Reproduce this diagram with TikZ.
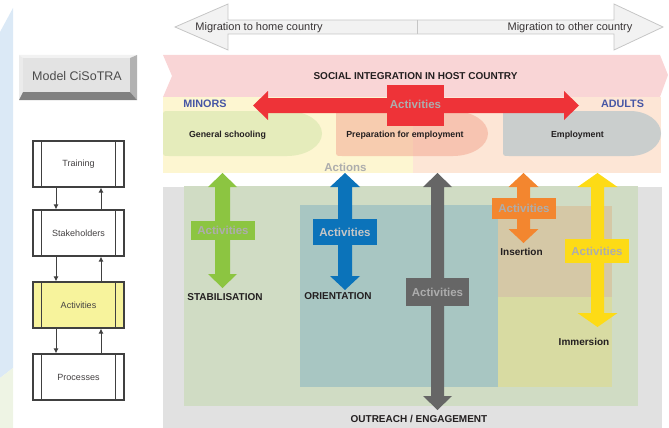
\documentclass[tikz,border=0pt]{standalone}
\usepackage{fontspec}
\setmainfont{Liberation Sans}
\usetikzlibrary{arrows.meta}
\definecolor{stripblue}{HTML}{DBE9F6}
\definecolor{stripgreen}{HTML}{EEF4E4}
\definecolor{migfill}{HTML}{F2F2F2}
\definecolor{migline}{HTML}{C6C6C6}
\definecolor{bandpink}{HTML}{F9D5D6}
\definecolor{minyellow}{HTML}{FDF6D1}
\definecolor{adpeach}{HTML}{FDE6D6}
\definecolor{schoolgreen}{HTML}{E5ECBB}
\definecolor{prepor}{HTML}{F3A48E}
\definecolor{empgray}{HTML}{CACECD}
\definecolor{actred}{HTML}{EE3338}
\definecolor{labblue}{HTML}{4656A5}
\definecolor{lowgray}{HTML}{E1E1E1}
\definecolor{lowgreen}{HTML}{D0DCC4}
\definecolor{lowteal}{HTML}{A8C6C2}
\definecolor{lowtan}{HTML}{D5C8A6}
\definecolor{lowyel}{HTML}{D8DBA2}
\definecolor{arrgreen}{HTML}{8CC541}
\definecolor{arrblue}{HTML}{0B73BA}
\definecolor{arrdark}{HTML}{666666}
\definecolor{arrorange}{HTML}{F3862F}
\definecolor{arryellow}{HTML}{FDDB16}
\definecolor{acttext}{HTML}{ADADAD}
\definecolor{darktext}{HTML}{231F20}
\definecolor{flowyel}{HTML}{F7F39C}
\definecolor{flowline}{HTML}{404040}
\newcommand\vdarr[7]{%
  \fill[#7] (#1,#2) -- (#1+#5,#2+#6) -- (#1+#4,#2+#6) -- (#1+#4,#3-#6) -- (#1+#5,#3-#6)
    -- (#1,#3) -- (#1-#5,#3-#6) -- (#1-#4,#3-#6) -- (#1-#4,#2+#6) -- (#1-#5,#2+#6) -- cycle;}
\newcommand\tabshape[6]{%
  \fill[#6] (#1,#2+6) -- (#1,#4-6) .. controls (#1,#4) .. (#1+6,#4) -- (#3-#5,#4)
    .. controls ({#3-#5+0.552*#5},#4) and (#3,{(#2+#4)/2+0.276*(#4-#2)}) .. (#3,{(#2+#4)/2})
    .. controls (#3,{(#2+#4)/2-0.276*(#4-#2)}) and ({#3-#5+0.552*#5},#2) .. (#3-#5,#2)
    -- (#1+6,#2) .. controls (#1,#2) .. (#1,#2+6) -- cycle;}
\tikzset{
  actbox/.style={fill=#1, text=acttext, inner sep=0pt, font=\fontsize{11.5}{12}\selectfont\bfseries},
  biglab/.style={text=darktext, font=\fontsize{10}{11}\selectfont\bfseries, inner sep=0pt},
  tablab/.style={text=darktext, font=\fontsize{8.8}{10}\selectfont\bfseries, inner sep=0pt},
  agelab/.style={text=labblue, font=\fontsize{10.8}{12}\selectfont\bfseries, inner sep=0pt},
  miglab/.style={text=darktext!90, font=\fontsize{11}{12}\selectfont, inner sep=0pt},
  flowbox/.style={draw=flowline, line width=1.1pt, fill=white, minimum width=91pt, minimum height=46pt,
     inner sep=0pt, text=darktext!85, font=\fontsize{9}{10}\selectfont},
  flowarr/.style={draw=flowline, line width=1pt, -{Latex[length=5pt,width=5pt]}}
}
\begin{document}
\begin{tikzpicture}[x=1pt,y=-1pt]
\useasboundingbox (0,0) rectangle (669,428);
% left strip
\fill[stripblue] (0,32) -- (13,8) -- (13,368) -- (0,378) -- cycle;
\fill[stripgreen] (0,378) -- (13,368) -- (13,428) -- (0,428) -- cycle;
% migration arrow
\filldraw[fill=migfill, draw=migline, line width=0.8pt]
  (175,27) -- (228,4) -- (228,20) -- (614,20) -- (614,4) -- (663,27) -- (614,50) -- (614,34)
  -- (228,34) -- (228,50) -- cycle;
\coordinate (mdtop) at (417,20);
\coordinate (mdbot) at (417,34);
\draw[migline, line width=0.8pt] (mdtop) -- (mdbot);
\node[miglab] (mhome) at (259,27.5) {Migration to home country};
\node[miglab] (mother) at (570,27.5) {Migration to other country};
% model button
\fill[black!5] (19,55) -- (137,55) -- (130,58) -- (23,58) -- cycle;
\fill[black!8] (19,55) -- (23,58) -- (23,92) -- (19,100) -- cycle;
\fill[black!30] (137,55) -- (137,100) -- (130,92) -- (130,58) -- cycle;
\fill[black!50] (19,100) -- (23,92) -- (130,92) -- (137,100) -- cycle;
\fill[black!11] (23,58) rectangle (130,92);
\node[text=black!70, font=\fontsize{12.5}{14}\selectfont, inner sep=0pt] (model) at (77,76) {Model CiSoTRA};
% social integration band
\fill[bandpink] (163,55) -- (660,55) -- (668,75) -- (660,97) -- (163,97) -- (172,76) -- cycle;
\node[biglab] (social) at (415.5,76) {SOCIAL INTEGRATION IN HOST COUNTRY};
% minors / adults regions
\fill[minyellow] (163,97) rectangle (413,173);
\fill[adpeach] (413,97) rectangle (661,173);
\tabshape{163}{111}{322}{156}{35}{schoolgreen}
\tabshape{336}{111}{488}{156}{35}{prepor, opacity=0.5}
\tabshape{503}{111}{661}{156}{31}{empgray}
\node[tablab] (school) at (227.5,135) {General schooling};
\node[tablab] (prep) at (405,135) {Preparation for employment};
\node[tablab] (emp) at (577.5,135) {Employment};
\node[agelab] (minors) at (205,104) {MINORS};
\node[agelab] (adults) at (622.5,104) {ADULTS};
% red horizontal arrow
\fill[actred] (253,105.5) -- (268,91) -- (268,98) -- (564,98) -- (564,91) -- (579,105.5)
  -- (564,120) -- (564,113) -- (268,113) -- (268,120) -- cycle;
\node[actbox=actred, minimum width=57pt, minimum height=41pt] (redact) at (415.5,105.5) {\raisebox{3pt}{Activities}};
\node[text=acttext, font=\fontsize{11.5}{12}\selectfont\bfseries, inner sep=0pt] (actions) at (345.5,167.5) {Actions};
% lower regions
\fill[lowgray] (163,187) rectangle (662,428);
\fill[lowgreen] (184,186) rectangle (638,406);
\fill[lowteal] (300,205) rectangle (498,387);
\fill[lowtan] (498,206) rectangle (612,297);
\fill[lowyel] (498,297) rectangle (612,387);
% vertical arrows
\vdarr{222.5}{173}{288}{7.5}{14.5}{14}{arrgreen}
\vdarr{345}{173}{290}{7}{15}{14}{arrblue}
\vdarr{437.5}{173}{410}{6.5}{14.5}{14}{arrdark}
\vdarr{523.5}{173}{243}{6.5}{15}{14}{arrorange}
\vdarr{597.5}{173}{327}{6.5}{20}{14}{arryellow}
\node[actbox=arrgreen, minimum width=64pt, minimum height=19pt] (gact) at (223,230.5) {Activities};
\node[actbox=arrblue, minimum width=64pt, minimum height=26pt, text=black!22] (bact) at (345,232) {Activities};
\node[actbox=arrdark, minimum width=63pt, minimum height=28pt] (dact) at (437.5,292) {Activities};
\node[actbox=arrorange, minimum width=64pt, minimum height=21pt] (oact) at (524,208.5) {Activities};
\node[actbox=arryellow, minimum width=64pt, minimum height=24pt] (yact) at (597,251) {Activities};
% lower labels
\node[biglab] (stab) at (225,297) {STABILISATION};
\node[biglab] (orient) at (338,296) {ORIENTATION};
\node[biglab] (insert) at (521.5,252) {Insertion};
\node[biglab] (immers) at (584,342) {Immersion};
\node[biglab] (outreach) at (419,419) {OUTREACH / ENGAGEMENT};
% flowchart
\node[flowbox] (tr) at (78.5,164) {Training};
\node[flowbox] (st) at (78.5,233) {Stakeholders};
\node[flowbox, fill=flowyel] (ac) at (78.5,305) {Activities};
\node[flowbox] (pr) at (78.5,377) {Processes};
\foreach \b in {tr,st,ac,pr}{
  \draw[flowline, line width=1.1pt] ([xshift=9pt]\b.north west) -- ([xshift=9pt]\b.south west);
  \draw[flowline, line width=1.1pt] ([xshift=-9pt]\b.north east) -- ([xshift=-9pt]\b.south east);
}
\draw[flowarr] ([xshift=-22.5pt]tr.south) -- ([xshift=-22.5pt]st.north);
\draw[flowarr] ([xshift=-22.5pt]st.south) -- ([xshift=-22.5pt]ac.north);
\draw[flowarr] ([xshift=-22.5pt]ac.south) -- ([xshift=-22.5pt]pr.north);
\draw[flowarr] ([xshift=22.5pt]st.north) -- ([xshift=22.5pt]tr.south);
\draw[flowarr] ([xshift=22.5pt]ac.north) -- ([xshift=22.5pt]st.south);
\draw[flowarr] ([xshift=22.5pt]pr.north) -- ([xshift=22.5pt]ac.south);
\end{tikzpicture}
\end{document}
